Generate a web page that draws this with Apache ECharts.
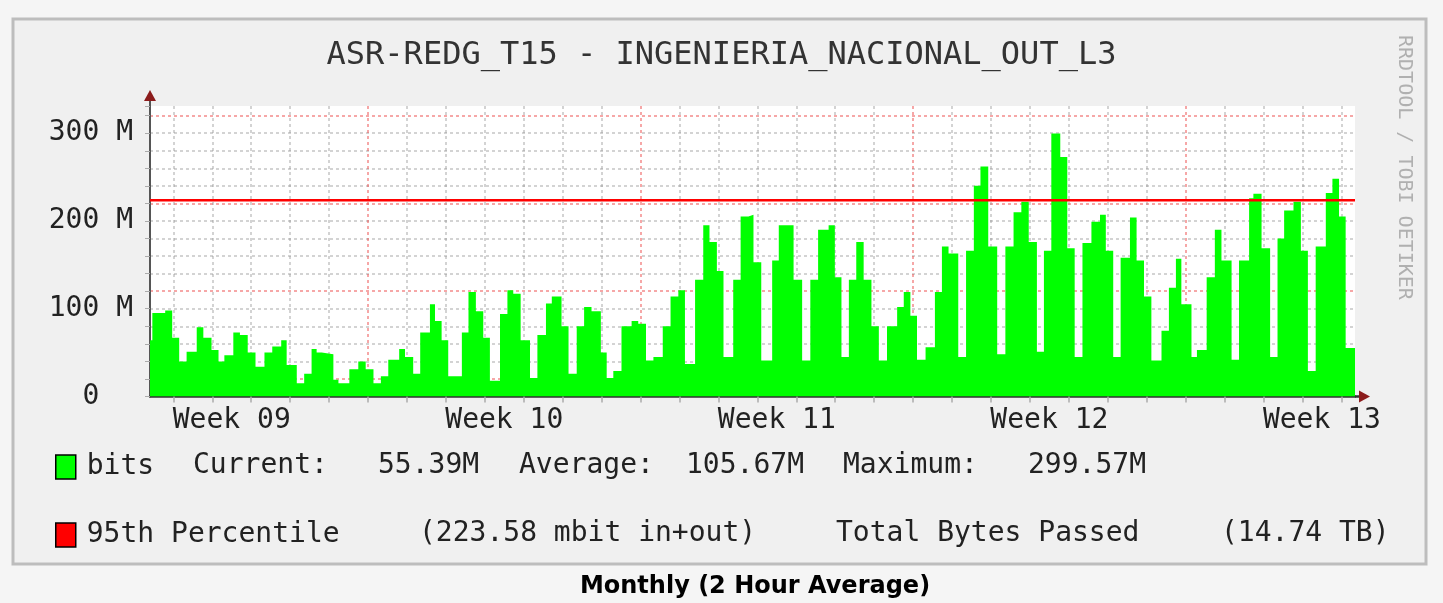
<!DOCTYPE html>
<html>
<head>
<meta charset="utf-8">
<title>ASR-REDG_T15 - INGENIERIA_NACIONAL_OUT_L3</title>
<script src="https://cdn.jsdelivr.net/npm/echarts@6/dist/echarts.min.js"></script>
<style>
html,body{margin:0;padding:0;background:#f5f5f5;}
#chart{width:1443px;height:603px;}
</style>
</head>
<body>
<div id="chart"></div>
<script>
// time in days: whole numbers are midnights, weeks start at 6, 13, 20, 27
var times = [0.40,0.46,0.79,0.97,1.15,1.34,1.60,1.77,1.98,2.16,2.31,2.54,2.71,2.91,3.11,3.34,3.54,3.77,3.91,4.17,
    4.36,4.55,4.68,4.81,5.11,5.24,5.52,5.75,5.94,6.14,6.33,6.52,6.80,6.95,7.16,7.34,7.59,7.72,7.89,8.06,
    8.41,8.58,8.77,8.96,9.13,9.39,9.58,9.73,9.92,10.16,10.35,10.57,10.72,10.97,11.15,11.36,11.55,11.74,11.98,12.13,
    12.30,12.51,12.77,12.94,13.14,13.33,13.57,13.77,13.97,14.14,14.40,14.61,14.77,14.96,15.13,15.38,15.57,15.77,15.90,16.10,
    16.38,16.55,16.93,17.15,17.36,17.56,17.83,17.99,18.16,18.35,18.54,18.73,18.93,19.12,19.33,19.59,19.76,19.93,20.10,20.32,
    20.56,20.74,20.91,21.16,21.36,21.56,21.73,21.93,22.16,22.37,22.58,22.78,22.97,23.18,23.36,23.55,23.78,23.96,24.15,24.35,
    24.58,24.80,24.95,25.14,25.33,25.57,25.74,25.93,26.12,26.38,26.57,26.75,26.89,27.15,27.29,27.54,27.75,27.92,28.18,28.37,
    28.63,28.74,28.95,29.17,29.36,29.53,29.77,29.96,30.14,30.34,30.60,30.77,30.94,31.11,31.35];
// bits per second, in M
var bitsM = [64,95,98,67,40,51,79,67,53,40,47,73,70,50,34,50,57,64,36,15,
    26,54,50,48,19,15,31,40,31,15,23,42,54,45,26,73,105,86,64,23,
    73,119,97,67,18,94,121,117,64,21,70,106,114,80,26,80,102,97,50,21,
    29,80,86,83,41,45,80,114,121,37,133,195,176,143,45,133,205,207,153,41,
    155,195,133,41,133,190,195,136,45,133,176,133,80,41,80,102,119,92,42,56,
    119,171,163,45,166,240,262,171,48,171,210,222,176,51,166,299.57,273,169,45,175,
    199,207,166,45,158,204,155,114,41,75,124,157,105,45,53,136,190,155,42,155,
    226,231,169,45,180,212,222,166,29,171,232,248,205,55.39,55.39];
var percentile95 = 223.58;
var weekLabels = ['Week 09','Week 10','Week 11','Week 12','Week 13'];
var weekMid = [2.5, 9.5, 16.5, 23.5, 30.5];

var xMin = 0.4, xMax = 31.35;
var G = {left:150, right:88, top:106, bottom:206.5};
var W = 1443, H = 603;
var mono = '"DejaVu Sans Mono", monospace';

var bitsData = times.map(function(t,i){ return [t, bitsM[i]]; });
var pctData = [[xMin, percentile95],[xMax, percentile95]];

var days = [];
for (var d = 1; d < xMax; d++) days.push(d);

// split lines follow the daily ticks: grey at midnights, red at week start (day 6, 13, ...)
var minorGrey = 'rgba(150,150,150,0.55)', majorRed = 'rgba(235,60,60,0.6)';
var xColors = [minorGrey, minorGrey, minorGrey, minorGrey, minorGrey, majorRed, minorGrey];

var chart = echarts.init(document.getElementById('chart'));
var plotRight = W - G.right, zeroY = H - G.bottom;

function txt(s, x, y) {
    return {type:'text', x:x, y:y, silent:true,
        style:{text:s, font:'28px ' + mono, fill:'#222', textVerticalAlign:'middle', verticalAlign:'middle'}};
}

var option = {
    animation:false,
    backgroundColor:'#f5f5f5',
    title:{
        text:'ASR-REDG_T15 - INGENIERIA_NACIONAL_OUT_L3',
        left:'center', top:35,
        textStyle:{fontFamily:mono, fontSize:32, fontWeight:'normal', color:'#333'}
    },
    legend:[
        {data:['bits'], left:50, top:448, icon:'rect', itemWidth:20, itemHeight:24,
            itemStyle:{borderColor:'#000', borderWidth:1.5},
            textStyle:{fontFamily:mono, fontSize:28, color:'#222', padding:[0,0,0,6]}},
        {data:['95th Percentile'], left:50, top:516, icon:'rect', itemWidth:20, itemHeight:24,
            itemStyle:{borderColor:'#000', borderWidth:1.5},
            textStyle:{fontFamily:mono, fontSize:28, color:'#222', padding:[0,0,0,6]}}
    ],
    grid:{left:G.left, right:G.right, top:G.top, bottom:G.bottom, show:true, backgroundColor:'#fff', borderWidth:0},
    xAxis:{
        type:'value', min:xMin, max:xMax, interval:0.2,
        axisLine:{lineStyle:{color:'#333', width:2.5}},
        axisTick:{show:true, customValues:days, length:6, lineStyle:{color:'#aaa', width:1.5}},
        axisLabel:{
            customValues:weekMid, margin:10,
            fontFamily:mono, fontSize:28, color:'#222',
            formatter:function(v){
                for (var i = 0; i < weekMid.length; i++) if (Math.abs(weekMid[i]-v) < 0.01) return weekLabels[i];
                return '';
            }
        },
        splitLine:{show:true, showMinLine:true, showMaxLine:true, lineStyle:{color:xColors, type:[3,3], width:1.5}}
    },
    yAxis:{
        type:'value', min:0, max:331, interval:20,
        axisLine:{show:true, lineStyle:{color:'#555', width:2}},
        axisTick:{show:true, length:5, lineStyle:{color:'#aaa'}},
        axisLabel:{
            margin:17, fontFamily:mono, fontSize:28, color:'#222',
            formatter:function(v){
                if (v === 0) return '0  ';
                if (v % 100 === 0) return v + ' M';
                return '';
            }
        },
        splitLine:{show:true, showMinLine:false, showMaxLine:false,
            lineStyle:{color:[majorRed, minorGrey, minorGrey, minorGrey, minorGrey], type:[3,3], width:1.5}}
    },
    series:[
        {
            name:'bits', type:'line', step:'end', data:bitsData,
            showSymbol:false, symbol:'none', z:2,
            itemStyle:{color:'#00ff00'},
            lineStyle:{width:0, color:'#00ff00'},
            areaStyle:{color:'#00ff00', opacity:1}
        },
        {
            name:'95th Percentile', type:'line', data:pctData,
            showSymbol:false, symbol:'none', z:4,
            itemStyle:{color:'#ff0000'},
            lineStyle:{width:2.5, color:'#ff0000'}
        }
    ],
    graphic:[
        {type:'rect', z:-10, silent:true, shape:{x:13, y:19, width:1413, height:545},
            style:{fill:'#f0f0f0', stroke:'#bdbdbd', lineWidth:3}},
        {type:'text', x:1404, y:35, rotation:-Math.PI/2, silent:true,
            style:{text:'RRDTOOL / TOBI OETIKER', font:'20px ' + mono, fill:'#b0b0b0', textAlign:'left', textVerticalAlign:'middle', verticalAlign:'middle'}},
        // axis extensions and arrows
        {type:'line', silent:true, shape:{x1:G.left, y1:G.top, x2:G.left, y2:G.top-6}, style:{stroke:'#555', lineWidth:2}},
        {type:'polygon', silent:true, shape:{points:[[G.left, G.top-16],[G.left-6, G.top-5],[G.left+6, G.top-5]]}, style:{fill:'#8c1c1c'}},
        {type:'line', silent:true, shape:{x1:plotRight, y1:zeroY, x2:plotRight+4, y2:zeroY}, style:{stroke:'#333', lineWidth:2.5}},
        {type:'polygon', silent:true, shape:{points:[[plotRight+15, zeroY],[plotRight+4, zeroY-6],[plotRight+4, zeroY+6]]}, style:{fill:'#8c1c1c'}},
        // legend values
        txt('Current:', 193, 466),
        txt('55.39M', 378, 466),
        txt('Average:', 519, 466),
        txt('105.67M', 686, 466),
        txt('Maximum:', 843, 466),
        txt('299.57M', 1028, 466),
        txt('(223.58 mbit in+out)', 419, 534),
        txt('Total Bytes Passed', 836, 534),
        txt('(14.74 TB)', 1221, 534),
        {type:'text', x:755, y:587, silent:true, style:{text:'Monthly (2 Hour Average)', font:'bold 24px "DejaVu Sans", sans-serif', fill:'#000', textAlign:'center', textVerticalAlign:'middle', verticalAlign:'middle'}}
    ]
};
chart.setOption(option);
</script>
</body>
</html>
